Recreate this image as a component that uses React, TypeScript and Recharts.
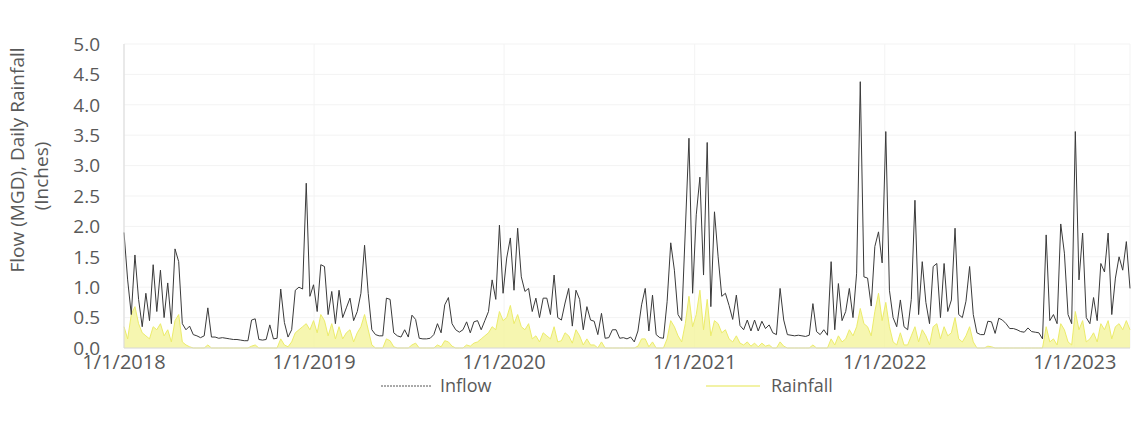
import {
  Area,
  CartesianGrid,
  ComposedChart,
  Legend,
  Line,
  XAxis,
  YAxis,
} from "recharts";

// weekly readings, first point = week of 1/1/2018
const startYear = 2018;
const stepDays = 7;

const inflow = [
  // 2018
  1.9, 1.12, 0.55, 1.53, 0.8, 0.35, 0.9, 0.45, 1.37, 0.6,
  1.28, 0.5, 1.07, 0.4, 1.63, 1.42, 0.4, 0.3, 0.36, 0.22,
  0.2, 0.17, 0.2, 0.66, 0.18, 0.18, 0.16, 0.17, 0.16, 0.15,
  0.14, 0.14, 0.13, 0.12, 0.12, 0.46, 0.48, 0.14, 0.13, 0.14,
  0.38, 0.15, 0.16, 0.97, 0.42, 0.18, 0.3, 0.95, 1.0, 0.97,
  2.71, 0.85,
  // 2019
  1.04, 0.6, 1.37, 1.34, 0.55, 0.93, 0.4, 0.95, 0.5, 0.66,
  0.82, 0.45, 0.6, 0.9, 1.69, 0.9, 0.3, 0.22, 0.2, 0.2,
  0.82, 0.8, 0.25, 0.2, 0.18, 0.3, 0.18, 0.54, 0.47, 0.16,
  0.15, 0.15, 0.16, 0.22, 0.4, 0.25, 0.71, 0.83, 0.4, 0.3,
  0.26, 0.3, 0.43, 0.25, 0.43, 0.45, 0.3, 0.45, 0.6, 1.12,
  0.8, 2.02,
  // 2020
  0.9, 1.48, 1.81, 0.95, 1.97, 1.17, 0.93, 0.98, 0.6, 0.82,
  0.5, 0.82, 0.82, 0.55, 1.2, 0.5, 0.46, 0.74, 0.98, 0.36,
  0.95, 0.8, 0.3, 0.68, 0.46, 0.44, 0.22, 0.57, 0.16, 0.17,
  0.3, 0.3, 0.16, 0.17, 0.15, 0.18, 0.1, 0.28, 0.71, 0.98,
  0.28, 0.87, 0.22, 0.17, 0.16, 0.76, 1.73, 1.28, 0.55, 0.45,
  1.94, 3.45,
  // 2021
  0.9, 2.19, 2.81, 1.2, 3.38, 0.68, 2.24, 1.5, 0.85, 0.9,
  0.7, 0.47, 0.87, 0.37, 0.3, 0.46, 0.28, 0.46, 0.28, 0.44,
  0.32, 0.38, 0.25, 0.22, 0.98, 0.46, 0.22, 0.21, 0.2, 0.21,
  0.2, 0.19, 0.21, 0.73, 0.27, 0.22, 0.3, 0.21, 1.42, 0.3,
  1.06, 0.45, 0.6, 0.98, 0.5, 1.23, 4.38, 1.17, 1.15, 0.69,
  1.67, 1.91,
  // 2022
  1.4, 3.56, 0.95, 0.5, 0.35, 0.79, 0.35, 0.3, 0.8, 2.43,
  0.55, 1.42, 0.75, 0.4, 1.34, 1.39, 0.5, 1.39, 0.6, 0.79,
  1.97, 0.55, 0.5, 0.77, 1.34, 0.55, 0.25, 0.22, 0.22, 0.44,
  0.43, 0.24, 0.49, 0.46, 0.4, 0.32, 0.32, 0.3, 0.27, 0.26,
  0.33, 0.27, 0.26, 0.25, 0.15, 1.86, 0.45, 0.55, 0.4, 2.04,
  1.56, 0.55,
  // 2023
  0.4, 3.56, 1.12, 1.89, 0.5, 0.4, 0.83, 0.45, 1.39, 1.25,
  1.89, 0.55, 1.15, 1.5, 1.28, 1.75, 0.98,
];

const rainfall = [
  // 2018
  0.35, 0.15, 0.55, 0.68, 0.4, 0.25, 0.2, 0.15, 0.35, 0.3,
  0.4, 0.2, 0.3, 0.1, 0.45, 0.55, 0.1, 0.05, 0.02, 0,
  0, 0, 0, 0.05, 0, 0, 0, 0, 0, 0,
  0, 0, 0, 0, 0, 0.03, 0.05, 0, 0, 0,
  0, 0, 0, 0.15, 0.05, 0.02, 0.1, 0.25, 0.3, 0.35,
  0.4, 0.3,
  // 2019
  0.45, 0.25, 0.55, 0.45, 0.2, 0.4, 0.15, 0.35, 0.15, 0.25,
  0.3, 0.1, 0.25, 0.35, 0.55, 0.3, 0.05, 0, 0, 0,
  0.15, 0.12, 0.02, 0, 0, 0, 0, 0.05, 0.08, 0,
  0, 0, 0, 0, 0.05, 0.02, 0.12, 0.1, 0.03, 0,
  0, 0, 0.05, 0.03, 0.08, 0.1, 0.15, 0.2, 0.25, 0.35,
  0.3, 0.6,
  // 2020
  0.45, 0.5, 0.7, 0.4, 0.55, 0.35, 0.3, 0.4, 0.15, 0.2,
  0.1, 0.25, 0.2, 0.15, 0.35, 0.1, 0.12, 0.25, 0.2, 0.08,
  0.3, 0.2, 0.05, 0.15, 0.05, 0.05, 0, 0.1, 0, 0,
  0, 0, 0, 0, 0, 0, 0, 0.03, 0.15, 0.15,
  0.02, 0.1, 0, 0, 0, 0.15, 0.45, 0.35, 0.2, 0.1,
  0.4, 0.85,
  // 2021
  0.35, 0.55, 0.95, 0.3, 0.8, 0.2, 0.45, 0.4, 0.25, 0.3,
  0.15, 0.1, 0.2, 0.08, 0.05, 0.1, 0.03, 0.08, 0.02, 0.08,
  0.03, 0.05, 0, 0, 0.1, 0.03, 0, 0, 0, 0,
  0, 0, 0, 0.05, 0, 0, 0, 0, 0.15, 0.05,
  0.2, 0.1, 0.15, 0.3, 0.2, 0.35, 0.65, 0.4, 0.35, 0.2,
  0.6, 0.9,
  // 2022
  0.45, 0.75, 0.35, 0.1, 0.05, 0.25, 0.05, 0.05, 0.2, 0.35,
  0.1, 0.3, 0.2, 0.05, 0.35, 0.4, 0.15, 0.35, 0.2, 0.25,
  0.5, 0.15, 0.1, 0.2, 0.35, 0.1, 0, 0, 0, 0.03,
  0.02, 0, 0, 0, 0, 0, 0, 0, 0, 0,
  0, 0, 0, 0, 0, 0.35, 0.1, 0.15, 0.05, 0.4,
  0.3, 0.1,
  // 2023
  0.05, 0.6, 0.3, 0.45, 0.1, 0.15, 0.25, 0.1, 0.4, 0.3,
  0.45, 0.15, 0.35, 0.4, 0.3, 0.45, 0.3,
];

const tickYears = [2018, 2019, 2020, 2021, 2022, 2023];
const tickLabels = ["1/1/2018", "1/1/2019", "1/1/2020", "1/1/2021", "1/1/2022", "1/1/2023"];
const yTicks = [0, 0.5, 1, 1.5, 2, 2.5, 3, 3.5, 4, 4.5, 5];

const DAY = 86400000;
const dayOf = (year: number) => (Date.UTC(year, 0, 1) - Date.UTC(startYear, 0, 1)) / DAY;
const xTicks = tickYears.map(dayOf);

const data = inflow.map((v, i) => ({
  day: i * stepDays,
  inflow: v,
  rainfall: rainfall[i],
}));

const FONT = "'Open Sans', sans-serif";
const TEXT = "#595959";

function AxisTitle() {
  return (
    <g fill={TEXT} fontFamily={FONT} fontSize={19}>
      <text x={19} y={160} transform="rotate(-90 19 160)" textAnchor="middle" dominantBaseline="middle">
        Flow (MGD), Daily Rainfall
      </text>
      <text x={43} y={176} transform="rotate(-90 43 176)" textAnchor="middle" dominantBaseline="middle">
        (Inches)
      </text>
    </g>
  );
}

function LegendBox() {
  return (
    <div style={{ position: "relative", height: 30, fontFamily: FONT, fontSize: 18, color: TEXT }}>
      <svg width={60} height={30} style={{ position: "absolute", left: 381, top: 0 }}>
        <line x1={0} y1={15} x2={51} y2={15} stroke="#555" strokeWidth={1} strokeDasharray="2 1" />
      </svg>
      <span style={{ position: "absolute", left: 440, top: 2 }}>Inflow</span>
      <svg width={60} height={30} style={{ position: "absolute", left: 706, top: 0 }}>
        <line x1={0} y1={15} x2={54} y2={15} stroke="#eeee88" strokeWidth={1.5} />
      </svg>
      <span style={{ position: "absolute", left: 771, top: 2 }}>Rainfall</span>
    </div>
  );
}

export default function App() {
  return (
    <div style={{ position: "absolute", left: 0, top: 0, background: "#fff" }}>
      <ComposedChart
        width={1133}
        height={427}
        data={data}
        margin={{ top: 44, right: 3, left: 0, bottom: 26 }}
      >
        <CartesianGrid stroke="#f3f3f3" />
        <XAxis
          dataKey="day"
          type="number"
          domain={[0, (inflow.length - 1) * stepDays]}
          ticks={xTicks}
          tickFormatter={(v: number) => tickLabels[xTicks.indexOf(v)] ?? ""}
          height={23}
          tickSize={0}
          tickMargin={7}
          axisLine={{ stroke: "#d9d9d9" }}
          tick={{ fill: TEXT, fontFamily: FONT, fontSize: 20 }}
          interval={0}
        />
        <YAxis
          domain={[0, 5]}
          ticks={yTicks}
          width={124}
          tickSize={0}
          tickMargin={24}
          axisLine={{ stroke: "#d9d9d9" }}
          tick={{ fill: TEXT, fontFamily: FONT, fontSize: 19 }}
          tickFormatter={(v: number) => v.toFixed(1)}
          label={<AxisTitle />}
        />
        <Legend verticalAlign="bottom" content={<LegendBox />} />
        <Line
          type="linear"
          dataKey="inflow"
          stroke="#3a3a3a"
          strokeWidth={1}
          dot={false}
          isAnimationActive={false}
        />
        <Area
          type="linear"
          dataKey="rainfall"
          stroke="#ecec6a"
          strokeWidth={1}
          fill="#f4f49c"
          fillOpacity={0.8}
          dot={false}
          isAnimationActive={false}
        />
      </ComposedChart>
    </div>
  );
}
